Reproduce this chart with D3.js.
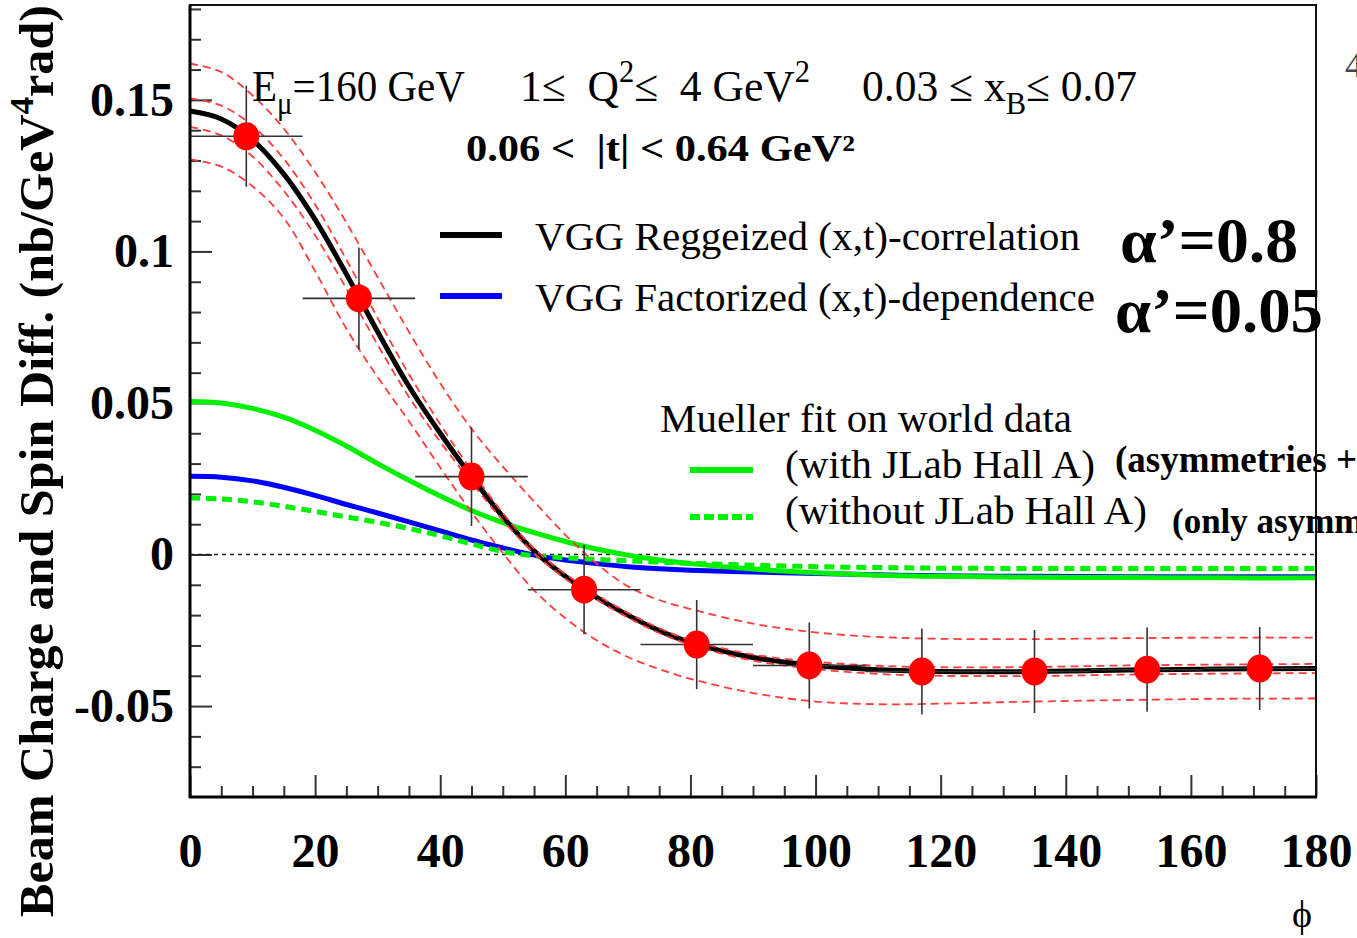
<!DOCTYPE html>
<html>
<head>
<meta charset="utf-8">
<script src="https://cdn.jsdelivr.net/npm/d3@7"></script>
<style>
  body { margin: 0; background: #fff; }
  svg { display: block; }
</style>
</head>
<body>
<svg id="chart"></svg>
<script>
const W = 1357;
const H = 938;
const serif = '"Liberation Serif", "Times New Roman", serif';

const phiGrid = [0, 5, 10, 15, 20, 25, 30, 35, 40, 45, 50, 55, 60, 65, 70, 75, 80, 90, 100, 110, 120, 135, 150, 165, 180];

// VGG Reggeized (x,t)-correlation (black)
const reggeized = [0.1463, 0.1437, 0.1368, 0.1255, 0.1105, 0.0925, 0.0735, 0.0555, 0.0400, 0.0257, 0.0125, 0.0012, -0.0072, -0.0141, -0.0200, -0.0251, -0.0290, -0.0340, -0.0366, -0.0380, -0.0386, -0.0386, -0.0381, -0.0378, -0.0376];
// VGG Factorized (x,t)-dependence (blue)
const factorized = [0.0258, 0.0255, 0.0243, 0.0222, 0.0195, 0.0165, 0.0137, 0.0108, 0.0078, 0.0048, 0.0022, -0.0002, -0.0018, -0.0030, -0.0040, -0.0047, -0.0052, -0.0058, -0.0063, -0.0067, -0.0070, -0.0072, -0.0073, -0.0073, -0.0073];
// Mueller fit with JLab Hall A (green solid)
const muellerWith = [0.0505, 0.0500, 0.0482, 0.0453, 0.0410, 0.0358, 0.0300, 0.0245, 0.0193, 0.0145, 0.0105, 0.0072, 0.0043, 0.0018, -0.0002, -0.0018, -0.0030, -0.0048, -0.0060, -0.0068, -0.0072, -0.0075, -0.0076, -0.0077, -0.0077];
// Mueller fit without JLab Hall A (green dashed)
const muellerWithout = [0.0187, 0.0183, 0.0174, 0.0159, 0.0142, 0.0124, 0.0106, 0.0086, 0.0062, 0.0035, 0.0010, -0.0004, -0.0011, -0.0016, -0.0021, -0.0025, -0.0029, -0.0035, -0.0040, -0.0043, -0.0045, -0.0046, -0.0046, -0.0046, -0.0046];
// red dashed bands
const bandOuterHi = [0.162, 0.1592, 0.1515, 0.1405, 0.1262, 0.1095, 0.0915, 0.0735, 0.0565, 0.0415, 0.0290, 0.0175, 0.0065, -0.0030, -0.0105, -0.0150, -0.0180, -0.0228, -0.0257, -0.0272, -0.0278, -0.0279, -0.0276, -0.0274, -0.0274];
const bandInnerHi = [0.1505, 0.1481, 0.1415, 0.1305, 0.1155, 0.0973, 0.0780, 0.0595, 0.0430, 0.0277, 0.0137, 0.0020, -0.0064, -0.0133, -0.0192, -0.0243, -0.0282, -0.0330, -0.0354, -0.0367, -0.0372, -0.0371, -0.0366, -0.0363, -0.0361];
const bandInnerLo = [0.1411, 0.1383, 0.1313, 0.1200, 0.1053, 0.0877, 0.0692, 0.0520, 0.0372, 0.0238, 0.0113, 0.0004, -0.0080, -0.0149, -0.0208, -0.0259, -0.0298, -0.0350, -0.0378, -0.0394, -0.0400, -0.0401, -0.0396, -0.0393, -0.0391];
const bandOuterLo = [0.1304, 0.1280, 0.1215, 0.1110, 0.0935, 0.0745, 0.0585, 0.0440, 0.0287, 0.0140, 0.0005, -0.0118, -0.0210, -0.0283, -0.0338, -0.0378, -0.0410, -0.0457, -0.0485, -0.0494, -0.0492, -0.0485, -0.0480, -0.0476, -0.0475];

// data points
const pointPhi = [9, 27, 45, 63, 81, 99, 117, 135, 153, 171];
const pointVal = [0.138, 0.0845, 0.0257, -0.0116, -0.0297, -0.0366, -0.0386, -0.0386, -0.0380, -0.0376];
const pointErr = [0.0167, 0.0168, 0.0163, 0.0147, 0.0147, 0.0142, 0.0142, 0.0137, 0.0139, 0.0137];
const binHalf = 9;

// axes
const xTickValues = [0, 20, 40, 60, 80, 100, 120, 140, 160, 180];
const yTickValues = [-0.05, 0, 0.05, 0.1, 0.15];
const yTickLabels = ['-0.05', '0', '0.05', '0.1', '0.15'];

const svg = d3.select('#chart').attr('width', W).attr('height', H);

const x = d3.scaleLinear().domain([0, 180]).range([190, 1316]);
const y = d3.scaleLinear().domain([-0.08, 0.1813]).range([797, 5]);

// ===========================================================================
//      axes
// ===========================================================================
const xMinor = d3.range(0, 181, 5).filter(d => d % 20 !== 0);
const yMinor = d3.range(-7, 19).map(d => d / 100).filter(d => Math.abs(Math.round(d * 100) % 5) !== 0);

function styleAxis(g) {
  g.select('.domain').remove();
  g.selectAll('.tick line').attr('stroke', '#333').attr('stroke-width', 2);
}

svg.append('g')
  .attr('transform', 'translate(0,797)')
  .call(d3.axisBottom(x).tickValues(xMinor).tickSize(-11).tickFormat(''))
  .call(styleAxis);

svg.append('g')
  .attr('transform', 'translate(0,797)')
  .call(d3.axisBottom(x).tickValues(xTickValues).tickSize(-22).tickPadding(36).tickFormat(d => d))
  .call(styleAxis)
  .call(g => g.selectAll('text')
    .attr('font-family', serif).attr('font-size', 48).attr('font-weight', 'bold').attr('fill', '#000'));

svg.append('g')
  .attr('transform', 'translate(190,0)')
  .call(d3.axisLeft(y).tickValues(yMinor).tickSize(-11).tickFormat(''))
  .call(styleAxis);

svg.append('g')
  .attr('transform', 'translate(190,0)')
  .call(d3.axisLeft(y).tickValues(yTickValues).tickSize(-22).tickPadding(16)
    .tickFormat((d, i) => yTickLabels[i]))
  .call(styleAxis)
  .call(g => g.selectAll('text')
    .attr('font-family', serif).attr('font-size', 48).attr('font-weight', 'bold').attr('fill', '#000'));

// zero line
svg.append('line')
  .attr('x1', x(0)).attr('x2', x(180)).attr('y1', y(0)).attr('y2', y(0))
  .attr('stroke', '#222').attr('stroke-width', 1.3).attr('stroke-dasharray', '4,4');

// ===========================================================================
//      curves
// ===========================================================================
const line = d3.line()
  .x((d, i) => x(phiGrid[i]))
  .y(d => y(d))
  .curve(d3.curveCatmullRom.alpha(0.5));

function curve(values, color, width, dash) {
  const p = svg.append('path')
    .attr('d', line(values))
    .attr('fill', 'none')
    .attr('stroke', color)
    .attr('stroke-width', width)
    .attr('stroke-linejoin', 'round');
  if (dash) p.attr('stroke-dasharray', dash);
  return p;
}

curve(factorized, '#0000ff', 5);
curve(muellerWithout, '#00f000', 5, '10,6');
curve(muellerWith, '#00f000', 5);
curve(reggeized, '#000', 5);
[bandOuterHi, bandInnerHi, bandInnerLo, bandOuterLo].forEach(function (band) {
  curve(band, '#ff3b3b', 1.8, '8,5');
});

// ===========================================================================
//      data points
// ===========================================================================
const pts = svg.append('g');
pointPhi.forEach(function (phi, i) {
  pts.append('line')
    .attr('x1', x(phi - binHalf)).attr('x2', x(phi + binHalf))
    .attr('y1', y(pointVal[i])).attr('y2', y(pointVal[i]))
    .attr('stroke', '#333').attr('stroke-width', 1.6);
  pts.append('line')
    .attr('x1', x(phi)).attr('x2', x(phi))
    .attr('y1', y(pointVal[i] - pointErr[i])).attr('y2', y(pointVal[i] + pointErr[i]))
    .attr('stroke', '#333').attr('stroke-width', 1.6);
});
pts.selectAll('ellipse')
  .data(pointPhi)
  .enter()
  .append('ellipse')
  .attr('cx', d => x(d))
  .attr('cy', (d, i) => y(pointVal[i]))
  .attr('rx', 13)
  .attr('ry', 14)
  .attr('fill', '#ff0000');

// frame
svg.append('rect')
  .attr('x', 190).attr('y', 5).attr('width', 1126).attr('height', 792)
  .attr('fill', 'none').attr('stroke', '#111').attr('stroke-width', 2);
svg.append('line').attr('x1', 190).attr('x2', 190).attr('y1', 5).attr('y2', 798)
  .attr('stroke', '#000').attr('stroke-width', 3);
svg.append('line').attr('x1', 189).attr('x2', 1317).attr('y1', 797).attr('y2', 797)
  .attr('stroke', '#000').attr('stroke-width', 3);

// ===========================================================================
//      texts
// ===========================================================================
function richText(px, py, parts, opt) {
  const t = svg.append('text')
    .attr('x', px).attr('y', py)
    .attr('font-family', serif)
    .attr('font-size', opt.size)
    .attr('font-weight', opt.bold ? 'bold' : 'normal')
    .attr('fill', opt.color || '#000')
    .style('white-space', 'pre');
  if (opt.anchor) t.attr('text-anchor', opt.anchor);
  if (opt.transform) t.attr('transform', opt.transform);
  if (opt.len) t.attr('textLength', opt.len).attr('lengthAdjust', 'spacingAndGlyphs');
  let shift = 0;
  parts.forEach(function (part) {
    const s = typeof part === 'string' ? part : part[0];
    const kind = typeof part === 'string' ? null : part[1];
    const target = kind === 'sub' ? opt.size * 0.28 : kind === 'sup' ? -opt.size * 0.42 : 0;
    const ts = t.append('tspan').text(s).attr('dy', target - shift);
    if (kind) ts.attr('font-size', opt.size * 0.7);
    shift = target;
  });
  return t;
}

// y label
richText(0, 0, ['Beam Charge and Spin Diff. (nb/GeV', ['4', 'sup'], 'rad)'],
  { size: 48, bold: true, anchor: 'middle', len: 912, transform: 'translate(53,461) rotate(-90)' });

// x label
svg.append('text').attr('x', 1302).attr('y', 927).attr('text-anchor', 'middle')
  .attr('font-family', serif).attr('font-size', 38).text('ϕ');

// kinematics
richText(252, 101, ['E', ['μ', 'sub'], '=160 GeV'], { size: 45, len: 213 });
richText(520, 101, ['1≤  Q', ['2', 'sup'], '≤  4 GeV', ['2', 'sup']], { size: 45, len: 290 });
richText(862, 101, ['0.03 ≤ x', ['B', 'sub'], '≤ 0.07'], { size: 45, len: 275 });
richText(466, 161, ['0.06 <  |t| < 0.64 GeV²'], { size: 38, bold: true, len: 389 });

// legend
const legendLines = [
  { x1: 440, x2: 502, y: 235, color: '#000', dash: null },
  { x1: 440, x2: 502, y: 296, color: '#0000ff', dash: null },
  { x1: 690, x2: 753, y: 470, color: '#00f000', dash: null },
  { x1: 690, x2: 753, y: 517, color: '#00f000', dash: '10,4' },
];
legendLines.forEach(function (l) {
  const ln = svg.append('line')
    .attr('x1', l.x1).attr('x2', l.x2).attr('y1', l.y).attr('y2', l.y)
    .attr('stroke', l.color).attr('stroke-width', 6);
  if (l.dash) ln.attr('stroke-dasharray', l.dash);
});

richText(535, 250, ['VGG Reggeized (x,t)-correlation'], { size: 40, len: 545 });
richText(535, 311, ['VGG Factorized (x,t)-dependence'], { size: 40, len: 560 });
richText(1120, 262, ['α’=0.8'], { size: 64, bold: true, len: 178 });
richText(1115, 332, ['α’=0.05'], { size: 64, bold: true, len: 208 });

richText(660, 432, ['Mueller fit on world data'], { size: 40, len: 412 });
richText(785, 478, ['(with JLab Hall A)'], { size: 40, len: 310 });
richText(785, 524, ['(without JLab Hall A)'], { size: 40, len: 362 });
richText(1115, 472, ['(asymmetries + cross sections)'], { size: 37, bold: true });
richText(1172, 533, ['(only asymmetries)'], { size: 35, bold: true });

svg.append('text').attr('x', 1345).attr('y', 77)
  .attr('font-family', serif).attr('font-size', 36).attr('fill', '#444').text('4');
</script>
</body>
</html>
